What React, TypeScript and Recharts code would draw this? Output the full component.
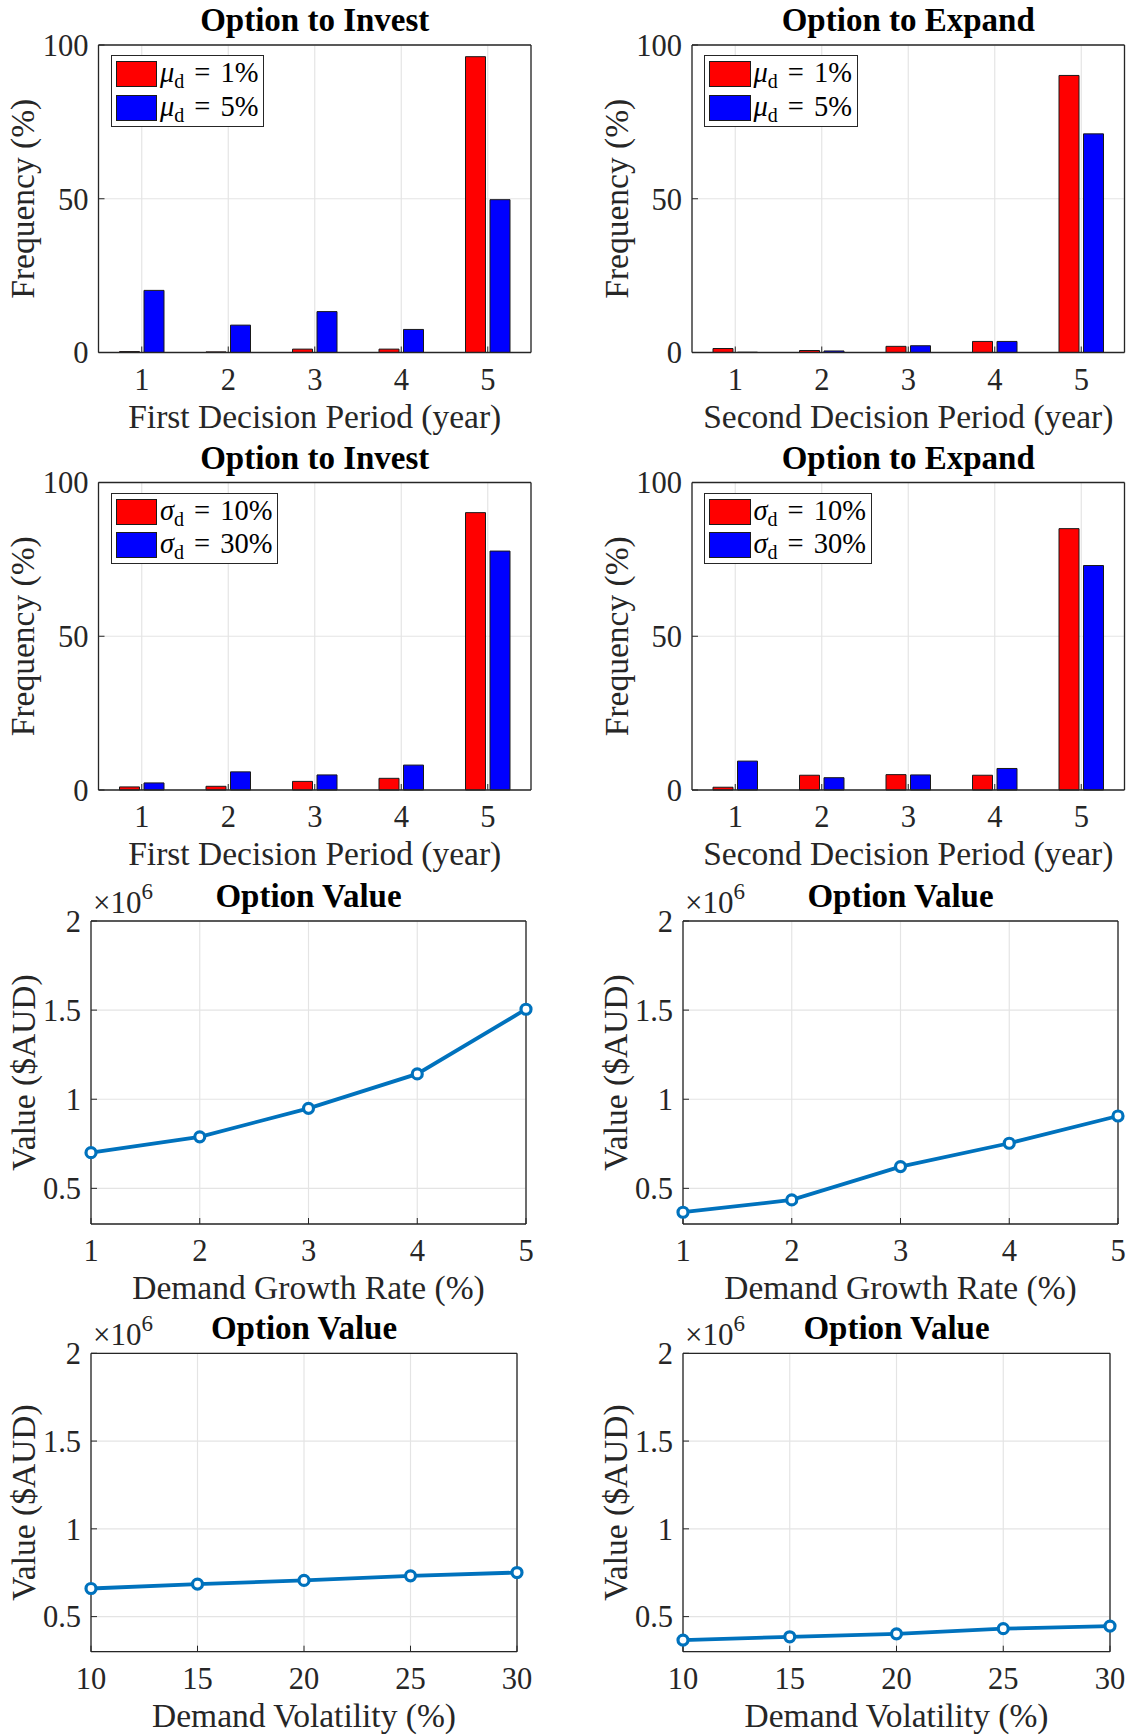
import React from 'react';
import { BarChart, Bar, LineChart, Line, XAxis, YAxis, CartesianGrid, Legend } from 'recharts';

const FONT = '"Liberation Serif", "Times New Roman", Times, serif';
const INK = '#262626';
const GRID = '#e4e4e4';

// ---- data ----
const periods = ['1', '2', '3', '4', '5'];
const freqTicks = [0, 50, 100];

const investMu1 = [0.3, 0.2, 1.1, 1.1, 96.2];
const investMu5 = [20.2, 8.9, 13.3, 7.5, 49.7];
const expandMu1 = [1.3, 0.65, 2.0, 3.6, 90.1];
const expandMu5 = [0.1, 0.5, 2.2, 3.6, 71.1];

const investSig10 = [1.0, 1.2, 2.8, 3.8, 90.2];
const investSig30 = [2.3, 5.9, 4.9, 8.1, 77.7];
const expandSig10 = [0.9, 4.8, 5.0, 4.8, 85.0];
const expandSig30 = [9.4, 4.0, 4.9, 7.0, 73.0];

const growthRates = [1, 2, 3, 4, 5];
const investByGrowth = [700000, 789000, 949000, 1142000, 1505000];
const expandByGrowth = [366000, 435000, 622000, 753000, 906000];

const volatilities = [10, 15, 20, 25, 30];
const investByVol = [660000, 685000, 706000, 732000, 751000];
const expandByVol = [366000, 385000, 402000, 431000, 446000];

const valueTicks = [500000, 1000000, 1500000, 2000000];
const valueDomain = [300000, 2000000];

// ---- layout ----
const PANEL_W = 565;
const YAXIS_W = 60;
const XAXIS_H = 40;
const TICK_FS = 30.5;
const LABEL_FS = 33.5;

type Frame = { x: number; y: number; h: number; plot: [number, number, number, number] };

// the top / right "box" axes take 1px each
const marginOf = (f: Frame) => ({
  left: f.plot[0] - YAXIS_W,
  top: f.plot[1] - 1,
  right: PANEL_W - f.plot[2] - 1,
  bottom: f.h - f.plot[3] - XAXIS_H,
});

// panels overlap a little vertically so descenders of the x labels are not cut
const frames: Record<string, Frame> = {
  r1l: { x: 0, y: 0, h: 445, plot: [98.5, 45, 531, 352.5] },
  r1r: { x: 565, y: 0, h: 445, plot: [127, 45, 559.5, 352.5] },
  r2l: { x: 0, y: 435, h: 445, plot: [98.5, 47.5, 531, 355] },
  r2r: { x: 565, y: 435, h: 445, plot: [127, 47.5, 559.5, 355] },
  r3l: { x: 0, y: 870, h: 445, plot: [91, 51, 526, 354] },
  r3r: { x: 565, y: 870, h: 445, plot: [118, 51, 553, 354] },
  r4l: { x: 0, y: 1305, h: 431, plot: [91, 48.3, 517, 346.7] },
  r4r: { x: 565, y: 1305, h: 431, plot: [118, 48.3, 545, 346.7] },
};

type VB = { x?: number; y?: number; width?: number; height?: number };

const PlotTitle = ({ viewBox, text, exponent }: { viewBox?: VB; text: string; exponent?: string }) => {
  const { x = 0, y = 0, width = 0, height = 0 } = viewBox || {};
  const top = y + height;
  return (
    <g>
      <text x={x + width / 2} y={top - 14} textAnchor="middle" fontSize={33} fontWeight="bold" fill="#000" fontFamily={FONT}>
        {text}
      </text>
      {exponent && (
        <text x={x + 2} y={top - 8} fontSize={31} fill={INK} fontFamily={FONT}>
          ×10
          <tspan dy={-14} fontSize={23}>{exponent}</tspan>
        </text>
      )}
    </g>
  );
};

const XTitle = ({ viewBox, text }: { viewBox?: VB; text: string }) => {
  const { x = 0, y = 0, width = 0 } = viewBox || {};
  return (
    <text x={x + width / 2} y={y + 75} textAnchor="middle" fontSize={LABEL_FS} fill={INK} fontFamily={FONT}>
      {text}
    </text>
  );
};

const YTitle = ({ viewBox, text, gap }: { viewBox?: VB; text: string; gap: number }) => {
  const { x = 0, y = 0, width = 0, height = 0 } = viewBox || {};
  const bx = x + width - gap;
  const cy = y + height / 2;
  return (
    <text x={bx} y={cy} transform={`rotate(-90 ${bx} ${cy})`} textAnchor="middle" fontSize={LABEL_FS} fill={INK} fontFamily={FONT}>
      {text}
    </text>
  );
};

const LegendBox = ({ payload, symbol }: any) => (
  <div
    style={{
      display: 'inline-flex',
      flexDirection: 'column',
      gap: 7.6,
      padding: '5px 5px 5px 4px',
      border: `1.3px solid ${INK}`,
      background: '#fff',
      fontFamily: FONT,
    }}
  >
    {(payload || []).map((p: any) => (
      <div key={p.value} style={{ display: 'flex', alignItems: 'center', height: 26 }}>
        <span style={{ width: 41.5, height: 26, boxSizing: 'border-box', background: p.color, border: '1px solid #1a1a1a' }} />
        <span style={{ marginLeft: 3, fontSize: 28.5, color: '#000', whiteSpace: 'nowrap', lineHeight: '26px' }}>
          <i>{symbol}</i>
          <span style={{ fontSize: 20, position: 'relative', top: 6 }}>d</span>
          <span style={{ margin: '0 10px' }}>=</span>
          {p.value}
        </span>
      </div>
    ))}
  </div>
);

const tickStyle = { fontSize: TICK_FS, fill: INK, fontFamily: FONT };
const axisLine = { stroke: INK, strokeWidth: 1.3 };

type BarPanelProps = {
  frame: Frame;
  title: string;
  xLabel: string;
  symbol: string;
  names: [string, string];
  a: number[];
  b: number[];
};

const BarPanel: React.FC<BarPanelProps> = ({ frame, title, xLabel, symbol, names, a, b }) => {
  const rows = periods.map((p, i) => ({ period: p, a: a[i], b: b[i] }));
  const m = marginOf(frame);
  return (
    <div style={{ position: 'absolute', left: frame.x, top: frame.y }}>
      <BarChart width={PANEL_W} height={frame.h} data={rows} margin={m} barSize={20} barGap={4.5}>
        <CartesianGrid stroke={GRID} strokeWidth={1.2} />
        <XAxis
          dataKey="period"
          interval={0}
          height={XAXIS_H}
          tickSize={-6}
          tickMargin={21.8}
          tick={tickStyle}
          axisLine={axisLine}
          tickLine={{ stroke: INK }}
          label={<XTitle text={xLabel} />}
        />
        <XAxis
          xAxisId="top"
          orientation="top"
          dataKey="period"
          interval={0}
          height={1}
          tick={false}
          tickSize={-6}
          axisLine={axisLine}
          tickLine={{ stroke: INK }}
          label={<PlotTitle text={title} />}
        />
        <YAxis
          domain={[0, 100]}
          ticks={freqTicks}
          width={YAXIS_W}
          tickSize={-6}
          tickMargin={16}
          tick={tickStyle}
          axisLine={axisLine}
          tickLine={{ stroke: INK }}
          label={<YTitle text="Frequency (%)" gap={64.5} />}
        />
        <YAxis
          yAxisId="right"
          orientation="right"
          domain={[0, 100]}
          ticks={freqTicks}
          width={1}
          tick={false}
          tickSize={-6}
          axisLine={axisLine}
          tickLine={{ stroke: INK }}
        />
        <Legend
          layout="vertical"
          align="center"
          verticalAlign="middle"
          wrapperStyle={{ left: frame.plot[0] + 12, top: frame.plot[1] + 10, width: 'auto', height: 'auto' }}
          content={<LegendBox symbol={symbol} />}
        />
        <Bar dataKey="a" name={names[0]} fill="#ff0000" stroke="#1a1a1a" strokeWidth={1} isAnimationActive={false} />
        <Bar dataKey="b" name={names[1]} fill="#0000ff" stroke="#1a1a1a" strokeWidth={1} isAnimationActive={false} />
      </BarChart>
    </div>
  );
};

type LinePanelProps = {
  frame: Frame;
  xLabel: string;
  xs: number[];
  values: number[];
};

const LinePanel: React.FC<LinePanelProps> = ({ frame, xLabel, xs, values }) => {
  const rows = xs.map((x, i) => ({ x, v: values[i] }));
  const m = marginOf(frame);
  const xDomain = [xs[0], xs[xs.length - 1]];
  return (
    <div style={{ position: 'absolute', left: frame.x, top: frame.y }}>
      <LineChart width={PANEL_W} height={frame.h} data={rows} margin={m}>
        <CartesianGrid stroke={GRID} strokeWidth={1.2} />
        <XAxis
          dataKey="x"
          type="number"
          domain={xDomain}
          ticks={xs}
          interval={0}
          height={XAXIS_H}
          tickSize={-6}
          tickMargin={21.8}
          tick={tickStyle}
          axisLine={axisLine}
          tickLine={{ stroke: INK }}
          label={<XTitle text={xLabel} />}
        />
        <XAxis
          xAxisId="top"
          orientation="top"
          dataKey="x"
          type="number"
          domain={xDomain}
          ticks={xs}
          interval={0}
          height={1}
          tick={false}
          tickSize={-6}
          axisLine={axisLine}
          tickLine={{ stroke: INK }}
          label={<PlotTitle text="Option Value" exponent="6" />}
        />
        <YAxis
          domain={valueDomain}
          ticks={valueTicks}
          width={YAXIS_W}
          tickSize={-6}
          tickMargin={16}
          tick={tickStyle}
          tickFormatter={(v: number) => String(v / 1e6)}
          axisLine={axisLine}
          tickLine={{ stroke: INK }}
          label={<YTitle text="Value ($AUD)" gap={56} />}
        />
        <YAxis
          yAxisId="right"
          orientation="right"
          domain={valueDomain}
          ticks={valueTicks}
          width={1}
          tick={false}
          tickSize={-6}
          axisLine={axisLine}
          tickLine={{ stroke: INK }}
        />
        <Line
          dataKey="v"
          type="linear"
          stroke="#0072bd"
          strokeWidth={3.8}
          dot={{ r: 5, stroke: '#0072bd', strokeWidth: 3.2, fill: '#fff' }}
          isAnimationActive={false}
        />
      </LineChart>
    </div>
  );
}

export default function App() {
  return (
    <div
      style={{
        position: 'absolute',
        left: 0,
        top: 0,
        width: 1130,
        height: 1736,
        background: '#fff',
        fontFamily: FONT,
        overflow: 'hidden',
      }}
    >
      <BarPanel frame={frames.r1l} title="Option to Invest" xLabel="First Decision Period (year)" symbol="μ" names={['1%', '5%']} a={investMu1} b={investMu5} />
      <BarPanel frame={frames.r1r} title="Option to Expand" xLabel="Second Decision Period (year)" symbol="μ" names={['1%', '5%']} a={expandMu1} b={expandMu5} />
      <BarPanel frame={frames.r2l} title="Option to Invest" xLabel="First Decision Period (year)" symbol="σ" names={['10%', '30%']} a={investSig10} b={investSig30} />
      <BarPanel frame={frames.r2r} title="Option to Expand" xLabel="Second Decision Period (year)" symbol="σ" names={['10%', '30%']} a={expandSig10} b={expandSig30} />
      <LinePanel frame={frames.r3l} xLabel="Demand Growth Rate (%)" xs={growthRates} values={investByGrowth} />
      <LinePanel frame={frames.r3r} xLabel="Demand Growth Rate (%)" xs={growthRates} values={expandByGrowth} />
      <LinePanel frame={frames.r4l} xLabel="Demand Volatility (%)" xs={volatilities} values={investByVol} />
      <LinePanel frame={frames.r4r} xLabel="Demand Volatility (%)" xs={volatilities} values={expandByVol} />
    </div>
  );
}
